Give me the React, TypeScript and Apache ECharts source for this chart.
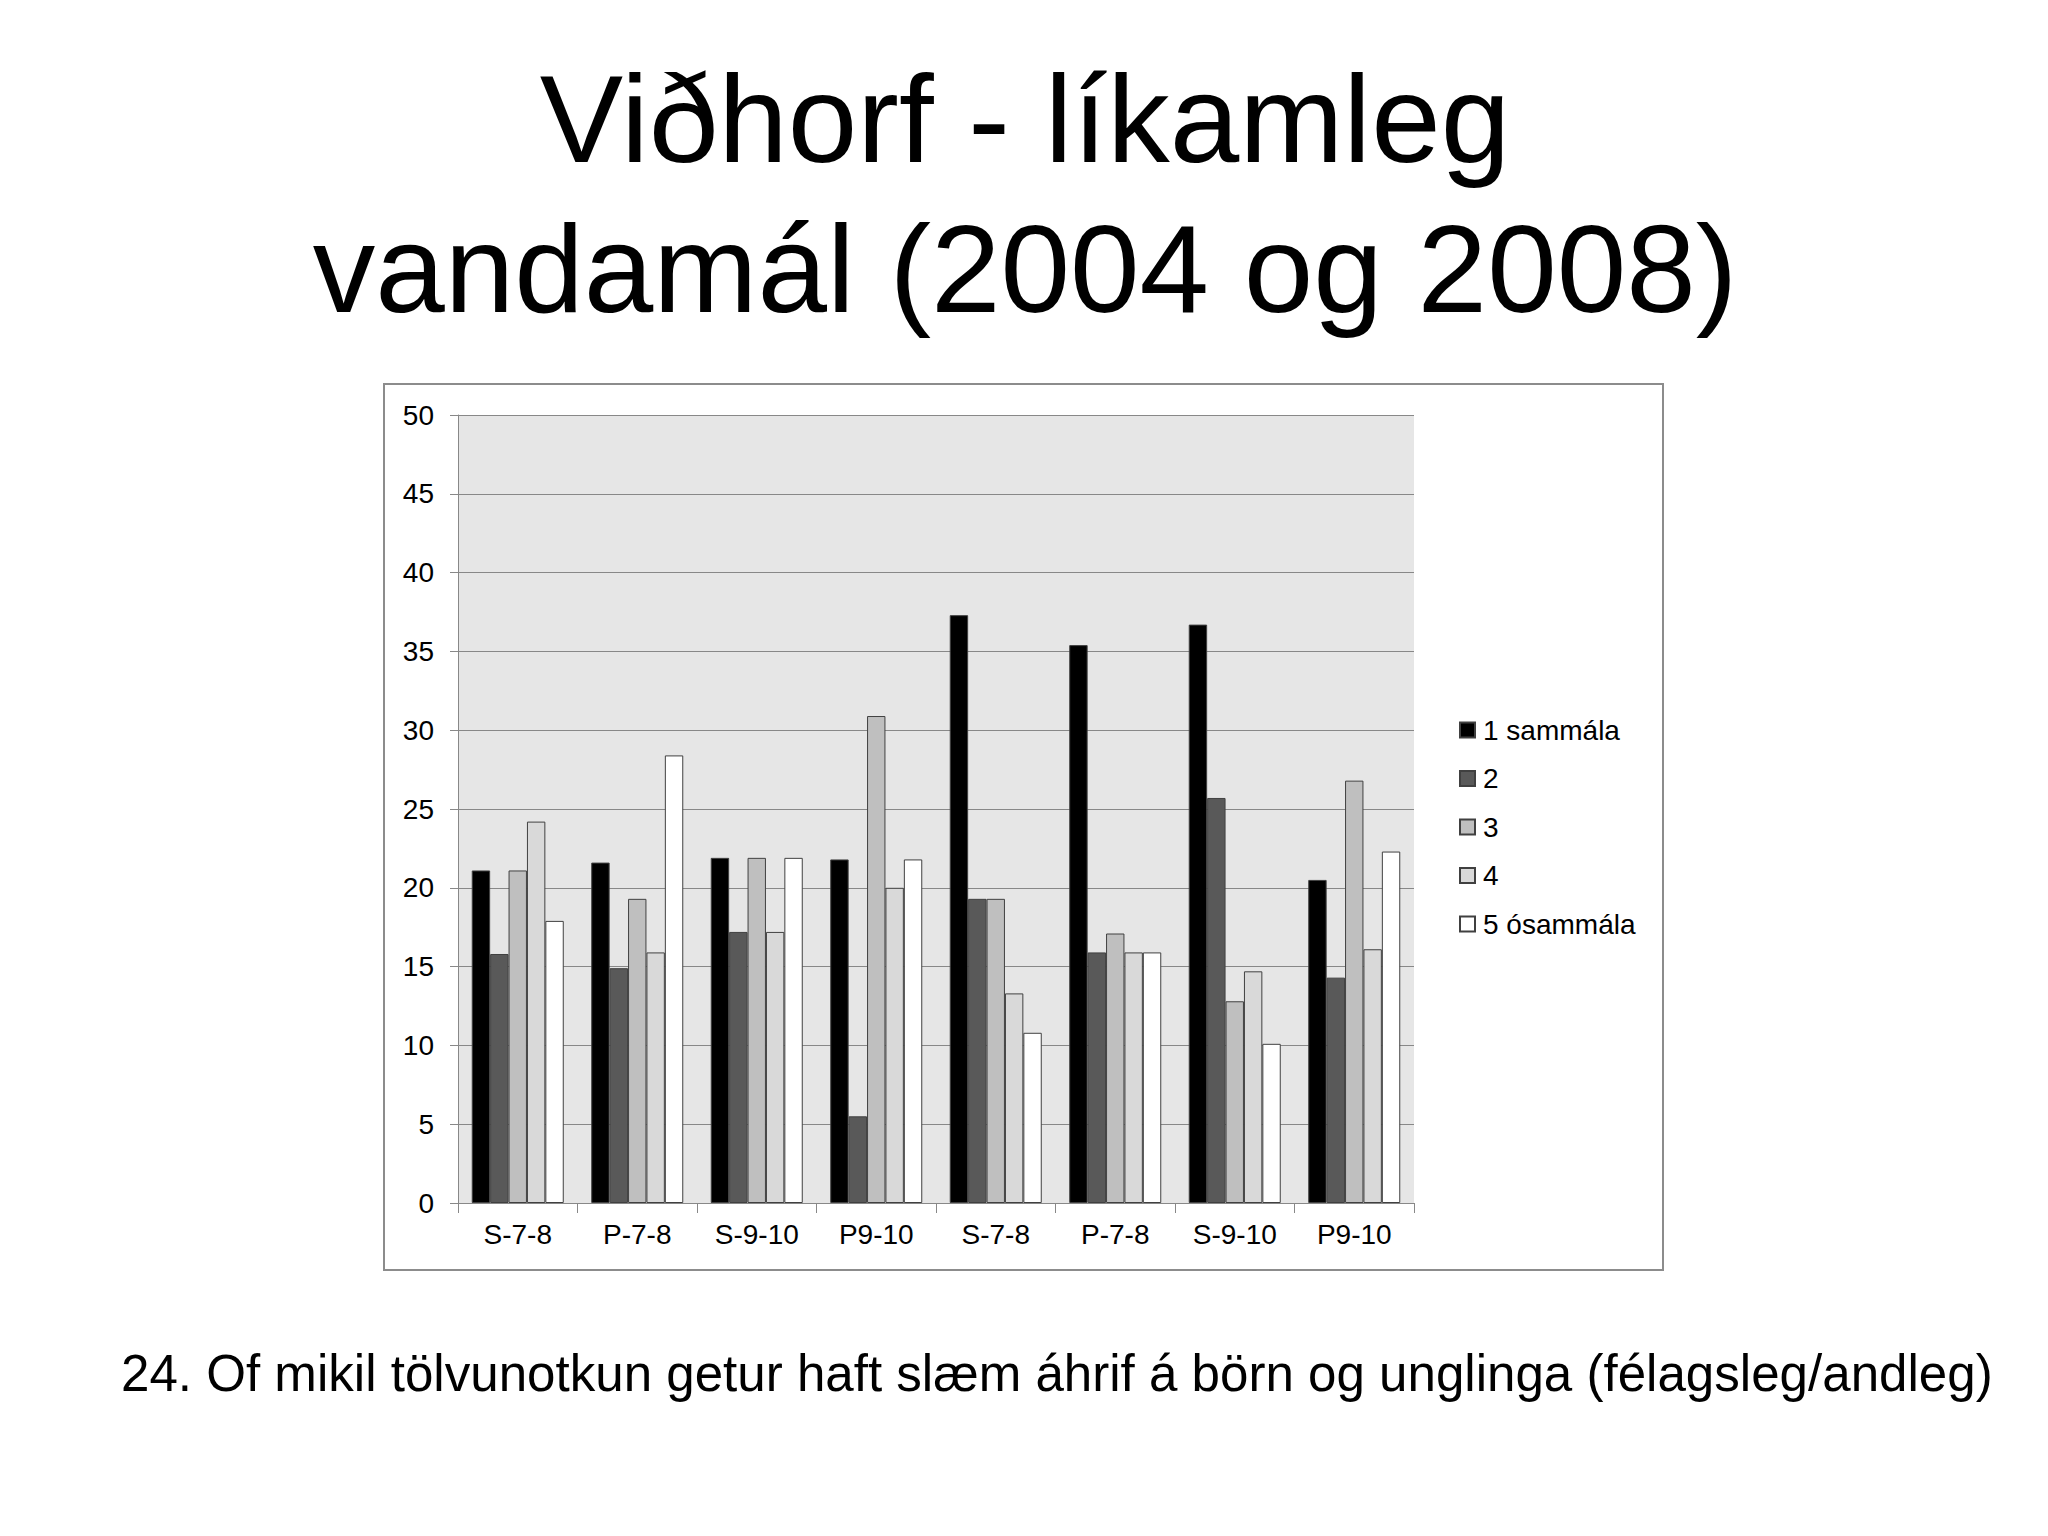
import React, { useEffect, useRef } from "react";
import * as echarts from "echarts";

const titleLines = ["Viðhorf - líkamleg", "vandamál (2004 og 2008)"];
const footnote = "24. Of mikil tölvunotkun getur haft slæm áhrif á börn og unglinga (félagsleg/andleg)";

const categories = ["S-7-8", "P-7-8", "S-9-10", "P9-10", "S-7-8", "P-7-8", "S-9-10", "P9-10"];
const seriesNames = ["1 sammála", "2", "3", "4", "5 ósammála"];
const s1 = [21.1, 21.6, 21.9, 21.8, 37.3, 35.4, 36.7, 20.5];
const s2 = [15.8, 14.9, 17.2, 5.5, 19.3, 15.9, 25.7, 14.3];
const s3 = [21.1, 19.3, 21.9, 30.9, 19.3, 17.1, 12.8, 26.8];
const s4 = [24.2, 15.9, 17.2, 20.0, 13.3, 15.9, 14.7, 16.1];
const s5 = [17.9, 28.4, 21.9, 21.8, 10.8, 15.9, 10.1, 22.3];
const seriesValues = [s1, s2, s3, s4, s5];
const seriesColors = ["#000000", "#595959", "#bfbfbf", "#d9d9d9", "#ffffff"];

const FONT = "'Liberation Sans', Arial, sans-serif";

export default function App() {
  const ref = useRef<HTMLDivElement>(null);
  useEffect(() => {
    if (!ref.current) return;
    const chart = echarts.init(ref.current, undefined, { renderer: "svg" });
    chart.setOption({
      animation: false,
      backgroundColor: "#ffffff",
      textStyle: { fontFamily: FONT },
      graphic: [
        {
          type: "rect",
          shape: { x: 384, y: 384, width: 1279, height: 886 },
          style: { fill: "none", stroke: "#8c8c8c", lineWidth: 2 },
          z: 0,
        },
        {
          type: "text",
          x: 1025,
          y: 118,
          style: {
            text: titleLines[0],
            fontSize: 125,
            fontFamily: FONT,
            fill: "#000",
            align: "center",
            verticalAlign: "middle",
          },
        },
        {
          type: "text",
          x: 1025,
          y: 268,
          style: {
            text: titleLines[1],
            fontSize: 125,
            fontFamily: FONT,
            fill: "#000",
            align: "center",
            verticalAlign: "middle",
          },
        },
        {
          type: "text",
          x: 121,
          y: 1373,
          style: {
            text: footnote,
            fontSize: 51.1,
            fontFamily: FONT,
            fill: "#000",
            align: "left",
            verticalAlign: "middle",
          },
        },
      ],
      grid: {
        left: 458,
        top: 415,
        width: 956,
        height: 788,
        show: true,
        backgroundColor: "#e6e6e6",
        borderWidth: 0,
      },
      legend: {
        orient: "vertical",
        left: 1454,
        top: 711,
        icon: "rect",
        itemWidth: 15,
        itemHeight: 15,
        itemGap: 20.5,
        textStyle: { fontSize: 28, color: "#000", fontFamily: FONT, padding: [0, 0, 0, 3] },
        data: seriesNames,
      },
      xAxis: {
        type: "category",
        data: categories,
        boundaryGap: true,
        axisLine: { show: true, lineStyle: { color: "#888888", width: 1 } },
        axisTick: { show: true, length: 10, lineStyle: { color: "#888888" } },
        axisLabel: { fontSize: 28, color: "#000", margin: 17, fontFamily: FONT, interval: 0 },
        splitLine: { show: false },
      },
      yAxis: {
        type: "value",
        min: 0,
        max: 50,
        interval: 5,
        axisLine: { show: true, lineStyle: { color: "#888888", width: 1 } },
        axisTick: { show: true, length: 8, lineStyle: { color: "#888888" } },
        axisLabel: { fontSize: 28, color: "#000", margin: 24, fontFamily: FONT },
        splitLine: { show: true, lineStyle: { color: "#888888", width: 1 } },
      },
      series: seriesNames.map((name, i) => ({
        name,
        type: "bar",
        data: seriesValues[i],
        barGap: "0%",
        barCategoryGap: "23%",
        itemStyle: {
          color: seriesColors[i],
          borderColor: "#404040",
          borderWidth: 1,
        },
      })),
    });
    return () => chart.dispose();
  }, []);
  return (
    <div
      ref={ref}
      style={{ position: "absolute", left: 0, top: 0, width: 2048, height: 1536 }}
    />
  );
}
